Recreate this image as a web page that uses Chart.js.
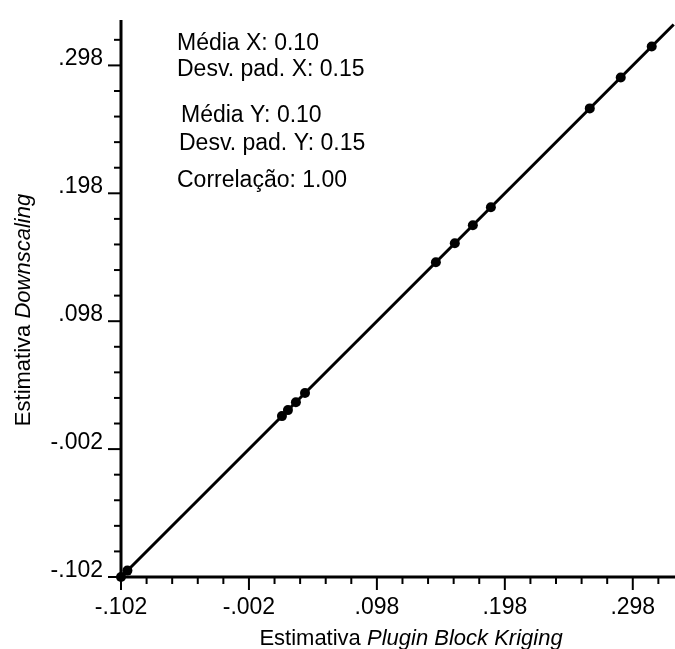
<!DOCTYPE html>
<html>
<head>
<meta charset="utf-8">
<script src="https://cdn.jsdelivr.net/npm/chart.js@4"></script>
<style>
    html, body { margin: 0; padding: 0; background: #fff; }
</style>
</head>
<body>
<canvas id="scatterChart" width="675" height="649"></canvas>
<script>
// Block estimates: Plugin Block Kriging (x) vs Downscaling (y)
var pluginBK    = [-0.102, -0.097, 0.0238, 0.0285, 0.0347, 0.0418, 0.1441, 0.1589, 0.1730, 0.1871, 0.2644, 0.2886, 0.3128];
var downscaling = [-0.102, -0.097, 0.0238, 0.0285, 0.0347, 0.0418, 0.1441, 0.1589, 0.1730, 0.1871, 0.2644, 0.2886, 0.3128];

// 1:1 reference line
var lineX = [-0.102, 0.330];
var lineY = [-0.102, 0.330];

var majorTicks = [-0.102, -0.002, 0.098, 0.198, 0.298];
var tickLabels = ['-.102', '-.002', '.098', '.198', '.298'];
var minorStep = 0.02;

var axisMin = -0.102;
var xMax = 0.331;
var yMax = 0.3335;

var statsLines = [
    { text: 'Média X: 0.10',      x: 177, y: 50 },
    { text: 'Desv. pad. X: 0.15', x: 177, y: 76 },
    { text: 'Média Y: 0.10',      x: 181, y: 122 },
    { text: 'Desv. pad. Y: 0.15', x: 179, y: 150 },
    { text: 'Correlação: 1.00',   x: 177, y: 187 }
];

var FONT = '"Liberation Sans", Arial, sans-serif';

function toPoints(xs, ys) {
    return xs.map(function (v, i) { return { x: v, y: ys[i] }; });
}

var axesPlugin = {
    id: 'axes',
    beforeDatasetsDraw: function (chart) {
        var ctx = chart.ctx;
        var sx = chart.scales.x, sy = chart.scales.y, area = chart.chartArea;
        var x0 = sx.getPixelForValue(axisMin);
        var y0 = sy.getPixelForValue(axisMin);
        ctx.save();
        ctx.strokeStyle = '#000';
        ctx.fillStyle = '#000';

        // axis lines
        ctx.lineWidth = 3;
        ctx.beginPath();
        ctx.moveTo(x0, area.top);
        ctx.lineTo(x0, y0);
        ctx.lineTo(area.right, y0);
        ctx.stroke();

        // ticks every 0.02, longer ones every 0.1
        ctx.lineWidth = 2;
        for (var i = 0; ; i++) {
            var v = axisMin + i * minorStep;
            if (v > Math.max(xMax, yMax) + 1e-9) break;
            var len = (i % 5 === 0) ? 13 : 7;
            if (v <= xMax) {
                var px = sx.getPixelForValue(v);
                ctx.beginPath();
                ctx.moveTo(px, y0);
                ctx.lineTo(px, y0 + len);
                ctx.stroke();
            }
            if (v <= yMax) {
                var py = sy.getPixelForValue(v);
                ctx.beginPath();
                ctx.moveTo(x0, py);
                ctx.lineTo(x0 - len, py);
                ctx.stroke();
            }
        }

        // tick labels
        ctx.font = '23px ' + FONT;
        ctx.textBaseline = 'alphabetic';
        majorTicks.forEach(function (v, i) {
            ctx.textAlign = 'center';
            ctx.fillText(tickLabels[i], sx.getPixelForValue(v), y0 + 37);
            ctx.textAlign = 'right';
            ctx.fillText(tickLabels[i], x0 - 18, sy.getPixelForValue(v));
        });
        ctx.restore();
    },
    afterDraw: function (chart) {
        var ctx = chart.ctx;
        ctx.save();
        ctx.fillStyle = '#000';
        ctx.textBaseline = 'alphabetic';
        ctx.textAlign = 'left';

        // summary statistics
        ctx.font = '23px ' + FONT;
        statsLines.forEach(function (s) {
            ctx.fillText(s.text, s.x, s.y);
        });

        // x axis title, partly italic
        drawMixed(ctx, 'Estimativa ', 'Plugin Block Kriging', 411, 645, 22);

        // y axis title, rotated
        ctx.translate(30, 310);
        ctx.rotate(-Math.PI / 2);
        drawMixed(ctx, 'Estimativa ', 'Downscaling', 0, 0, 22);
        ctx.restore();
    }
};

function drawMixed(ctx, plain, italic, cx, baseline, size) {
    ctx.font = size + 'px ' + FONT;
    var w1 = ctx.measureText(plain).width;
    ctx.font = 'italic ' + size + 'px ' + FONT;
    var w2 = ctx.measureText(italic).width;
    var start = cx - (w1 + w2) / 2;
    ctx.textAlign = 'left';
    ctx.font = size + 'px ' + FONT;
    ctx.fillText(plain, start, baseline);
    ctx.font = 'italic ' + size + 'px ' + FONT;
    ctx.fillText(italic, start + w1, baseline);
}

var ctx = document.getElementById('scatterChart').getContext('2d');
new Chart(ctx, {
    type: 'scatter',
    data: {
        datasets: [
            {
                data: toPoints(lineX, lineY),
                showLine: true,
                borderColor: '#000',
                borderWidth: 3,
                pointRadius: 0,
                clip: false
            },
            {
                data: toPoints(pluginBK, downscaling),
                backgroundColor: '#000',
                borderColor: '#000',
                pointRadius: 5,
                borderWidth: 0,
                clip: false
            }
        ]
    },
    options: {
        responsive: false,
        animation: false,
        layout: {
            autoPadding: false,
            padding: { left: 121, top: 20, right: 0, bottom: 72 }
        },
        plugins: {
            legend: { display: false },
            tooltip: { enabled: false }
        },
        scales: {
            x: { type: 'linear', min: axisMin, max: xMax, display: false },
            y: { type: 'linear', min: axisMin, max: yMax, display: false }
        }
    },
    plugins: [axesPlugin]
});
</script>
</body>
</html>
